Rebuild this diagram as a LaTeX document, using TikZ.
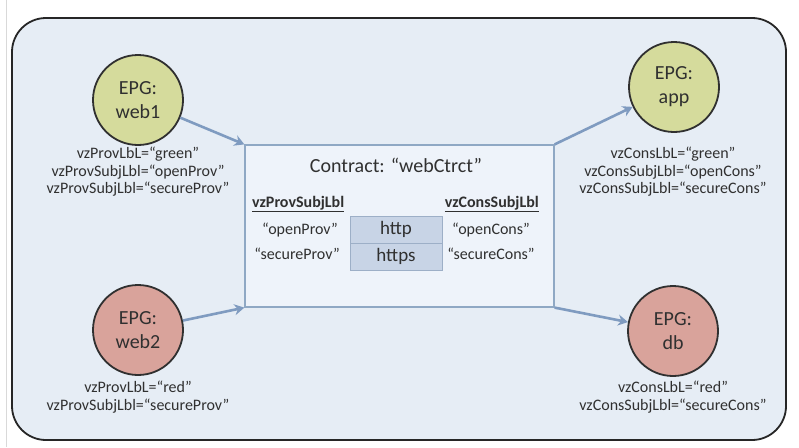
\documentclass[tikz,border=0pt]{standalone}
\usepackage{fontspec}
\setmainfont{Carlito}
\usetikzlibrary{arrows.meta}
\definecolor{bgfill}{HTML}{E6EDF5}
\definecolor{boxfill}{HTML}{EEF3FA}
\definecolor{boxline}{HTML}{8FA8C4}
\definecolor{cellfill}{HTML}{C8D4E6}
\definecolor{cellline}{HTML}{9DAFC7}
\definecolor{greenepg}{HTML}{D5DB9C}
\definecolor{redepg}{HTML}{D9A39B}
\definecolor{arrowc}{HTML}{7F9BC0}
\definecolor{txt}{HTML}{303030}
\tikzset{
  epg/.style={circle, draw=txt, line width=1.8pt, minimum size=90pt, inner sep=0pt, align=center, text=txt, font=\fontsize{20}{24}\selectfont},
  lbl/.style={align=center, text=txt, font=\fontsize{16}{17.5}\selectfont, inner sep=0pt},
  cell/.style={draw=cellline, fill=cellfill, line width=0.8pt, minimum width=92pt, minimum height=27pt, inner sep=0pt, text=txt, font=\fontsize{19}{22}\selectfont},
  flow/.style={draw=arrowc, line width=2.6pt, -{Stealth[length=10pt,width=11pt]}},
}
\begin{document}
\begin{tikzpicture}[x=1pt,y=-1pt]
\useasboundingbox (0,0) rectangle (799,447);
\fill[white] (0,0) rectangle (799,447);
\draw[black!15, line width=1pt] (6,0) -- (6,447);
\draw[fill=bgfill, draw=black!85, line width=1.8pt, rounded corners=34pt] (12,18) rectangle (786,440);

% contract box
\node[draw=boxline, fill=boxfill, line width=1.2pt, minimum width=309pt, minimum height=162pt, inner sep=0pt] (ctr) at (399.5,226) {};
\node[lbl, font=\fontsize{20}{24}\selectfont] (title) at (396,165) {Contract: “webCtrct”};
\node[lbl, anchor=west] (ph) at (252,204) {\underline{\textbf{vzProvSubjLbl}}};
\node[lbl, anchor=east] (ch) at (539,204) {\underline{\textbf{vzConsSubjLbl}}};
\node[cell] (http) at (396,229.5) {http};
\node[cell] (https) at (396,256.5) {https};
\node[lbl] (op) at (300,230) {“openProv”};
\node[lbl] (sp) at (297,254) {“secureProv”};
\node[lbl] (oc) at (491,230) {“openCons”};
\node[lbl] (sc) at (491,254) {“secureCons”};

% EPGs
\node[epg, fill=greenepg] (web1) at (138,100) {EPG:\\web1};
\node[epg, fill=greenepg] (app) at (674,87) {EPG:\\app};
\node[epg, fill=redepg] (web2) at (138,330) {EPG:\\web2};
\node[epg, fill=redepg] (db) at (673,331) {EPG:\\db};

\node[lbl] (l1) at (138,172) {vzProvLbL=“green”\\vzProvSubjLbl=“openProv”\\vzProvSubjLbl=“secureProv”};
\node[lbl] (l2) at (673,172) {vzConsLbL=“green”\\vzConsSubjLbl=“openCons”\\vzConsSubjLbl=“secureCons”};
\node[lbl] (l3) at (138,397) {vzProvLbL=“red”\\vzProvSubjLbl=“secureProv”};
\node[lbl] (l4) at (673,397) {vzConsLbL=“red”\\vzConsSubjLbl=“secureCons”};

% arrows
\draw[flow] (web1) -- (ctr.north west);
\draw[flow] (web2) -- (ctr.south west);
\draw[flow] (ctr.north east) -- (app);
\draw[flow] (ctr.south east) -- (db);
\end{tikzpicture}
\end{document}
